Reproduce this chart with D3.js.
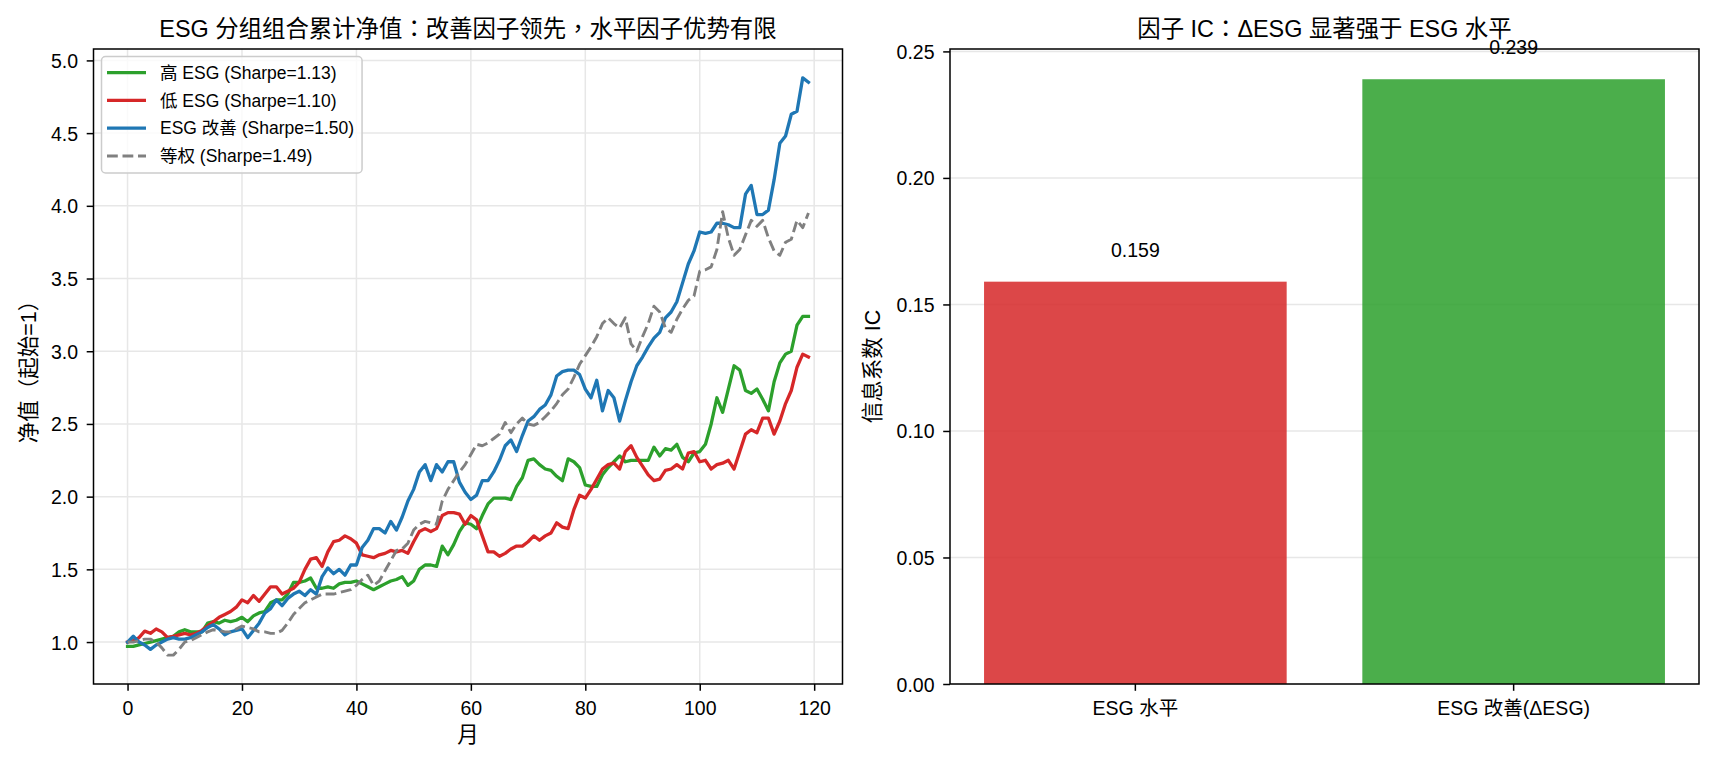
<!DOCTYPE html>
<html>
<head>
<meta charset="utf-8">
<script src="https://cdn.jsdelivr.net/npm/d3@7/dist/d3.min.js"></script>
<style>
  body { margin: 0; background: #fff; }
  svg text { font-family: "Liberation Sans", Arial, "Noto Sans CJK SC", sans-serif; fill: #000; }
  svg tspan.punct { font-family: "Noto Sans CJK TC", "Noto Sans CJK SC", sans-serif; }
</style>
</head>
<body>
<svg id="chart" width="1710" height="765"></svg>
<script>
// ---- data ----
var seriesNames = ["高 ESG (Sharpe=1.13)", "低 ESG (Sharpe=1.10)", "ESG 改善 (Sharpe=1.50)", "等权 (Sharpe=1.49)"];

var highEsg = [0.97,0.97,0.98,0.99,1.00,1.01,1.02,1.03,1.04,1.07,
  1.085,1.07,1.07,1.07,1.13,1.14,1.13,1.15,1.14,1.15,
  1.17,1.14,1.18,1.20,1.21,1.27,1.29,1.29,1.33,1.41,
  1.41,1.42,1.44,1.37,1.37,1.38,1.37,1.40,1.41,1.41,
  1.42,1.40,1.38,1.36,1.38,1.40,1.42,1.43,1.45,1.39,
  1.42,1.50,1.53,1.53,1.52,1.66,1.60,1.67,1.76,1.82,
  1.81,1.78,1.87,1.95,1.99,1.99,1.99,1.98,2.07,2.13,
  2.25,2.26,2.22,2.19,2.18,2.14,2.11,2.26,2.24,2.20,
  2.08,2.07,2.07,2.15,2.20,2.24,2.28,2.24,2.25,2.25,
  2.25,2.25,2.34,2.28,2.33,2.32,2.36,2.27,2.24,2.30,
  2.31,2.36,2.50,2.68,2.58,2.74,2.90,2.87,2.73,2.71,
  2.74,2.67,2.59,2.79,2.92,2.98,3.00,3.18,3.24,3.24];

var lowEsg = [1.00,1.01,1.03,1.075,1.06,1.09,1.07,1.03,1.04,1.05,
  1.06,1.05,1.06,1.08,1.11,1.14,1.17,1.19,1.21,1.24,
  1.29,1.27,1.32,1.28,1.33,1.38,1.38,1.33,1.35,1.37,
  1.41,1.50,1.57,1.58,1.52,1.62,1.69,1.70,1.73,1.71,
  1.68,1.60,1.59,1.58,1.60,1.61,1.63,1.62,1.63,1.61,
  1.69,1.76,1.78,1.76,1.78,1.87,1.89,1.89,1.88,1.81,
  1.87,1.84,1.73,1.62,1.62,1.59,1.61,1.64,1.66,1.66,
  1.69,1.73,1.70,1.73,1.75,1.82,1.79,1.78,1.91,2.01,
  1.99,2.05,2.12,2.19,2.22,2.23,2.19,2.31,2.35,2.27,
  2.21,2.15,2.11,2.12,2.18,2.19,2.22,2.19,2.30,2.31,
  2.24,2.25,2.19,2.22,2.23,2.25,2.19,2.31,2.43,2.46,
  2.44,2.54,2.54,2.43,2.52,2.64,2.73,2.89,2.98,2.96];

var esgImprove = [1.00,1.04,1.00,0.98,0.95,0.98,1.00,1.02,1.03,1.02,
  1.02,1.03,1.05,1.07,1.10,1.12,1.09,1.05,1.07,1.08,
  1.09,1.03,1.08,1.13,1.20,1.23,1.29,1.25,1.30,1.33,
  1.35,1.32,1.36,1.33,1.45,1.51,1.47,1.50,1.46,1.53,
  1.53,1.65,1.70,1.78,1.78,1.75,1.83,1.77,1.86,1.97,
  2.05,2.17,2.22,2.11,2.22,2.17,2.24,2.24,2.10,2.03,
  1.98,2.01,2.11,2.11,2.17,2.25,2.35,2.39,2.31,2.42,
  2.52,2.55,2.60,2.63,2.70,2.83,2.86,2.87,2.87,2.84,
  2.74,2.68,2.80,2.59,2.73,2.68,2.52,2.66,2.79,2.90,
  2.96,3.03,3.09,3.13,3.23,3.27,3.34,3.47,3.60,3.69,
  3.82,3.81,3.82,3.88,3.88,3.87,3.85,3.85,4.08,4.14,
  3.94,3.94,3.97,4.18,4.43,4.48,4.63,4.65,4.88,4.85];

var equalWeight = [1.00,1.00,1.01,1.02,1.02,1.00,0.96,0.91,0.91,0.95,
  1.00,1.01,1.03,1.05,1.07,1.085,1.08,1.07,1.07,1.09,
  1.11,1.10,1.09,1.07,1.07,1.06,1.06,1.08,1.13,1.19,
  1.23,1.27,1.29,1.31,1.33,1.33,1.33,1.34,1.35,1.36,
  1.39,1.43,1.46,1.39,1.42,1.49,1.56,1.63,1.64,1.68,
  1.77,1.81,1.83,1.82,1.81,1.97,2.05,2.11,2.17,2.22,
  2.29,2.36,2.35,2.37,2.40,2.43,2.51,2.44,2.50,2.54,
  2.50,2.49,2.51,2.55,2.59,2.64,2.70,2.74,2.82,2.91,
  2.97,3.03,3.10,3.19,3.23,3.19,3.16,3.23,3.05,3.00,
  3.10,3.19,3.31,3.27,3.16,3.13,3.22,3.29,3.35,3.38,
  3.55,3.56,3.58,3.70,3.96,3.78,3.66,3.70,3.80,3.90,
  3.86,3.90,3.78,3.69,3.66,3.75,3.77,3.90,3.85,3.95];

var icCategories = ["ESG 水平", "ESG 改善(ΔESG)"];
var icValues = [0.159, 0.239];

// ---- styles ----
var lineColors = ["#2ca02c", "#d62728", "#1f77b4", "#808080"],
    barColors = ["rgba(214,39,40,0.85)", "rgba(44,160,44,0.85)"],
    tickFont = 19.5, labelFont = 21.5, titleFont = 23.4, legendFont = 17.5,
    gridColor = "#e7e7e7";

var leftBox = {x0: 93.5, x1: 842.5, y0: 49, y1: 684},
    rightBox = {x0: 950, x1: 1699, y0: 49, y1: 684};

var svg = d3.select("#chart");
svg.append("rect").attr("width", 1710).attr("height", 765).attr("fill", "#fff");

function styleAxis(g){
    g.select("path.domain").remove();
    g.selectAll(".tick line").attr("stroke", "#000").attr("stroke-width", 1.5);
    g.selectAll(".tick text").style("font-size", tickFont + "px").attr("fill", "#000");
}

// full-width punctuation drawn centred (like the reference font)
function cjkText(sel, str){
    var parts = str.split(/([：，（）])/);
    parts.forEach(function(p){
        if(!p) return;
        var t = sel.append("tspan").text(p);
        if(/[：，（）]/.test(p)) t.attr("class", "punct");
    });
    return sel;
}

// ================= left: cumulative NAV =================
var allSeries = [highEsg, lowEsg, esgImprove, equalWeight];
var months = highEsg.map(function(d, i){ return i; });

var nMax = months.length - 1;
var xL = d3.scaleLinear()
    .domain([-0.05 * nMax, nMax * 1.05])
    .range([leftBox.x0, leftBox.x1]);

var vMin = d3.min(allSeries, function(s){ return d3.min(s); }),
    vMax = d3.max(allSeries, function(s){ return d3.max(s); }),
    vPad = (vMax - vMin) * 0.05;
var yL = d3.scaleLinear()
    .domain([vMin - vPad, vMax + vPad])
    .range([leftBox.y1, leftBox.y0]);

var leftG = svg.append("g");

// grid
leftG.append("g").selectAll("line.gx")
    .data(xL.ticks(7)).enter().append("line")
    .attr("x1", function(d){ return xL(d); }).attr("x2", function(d){ return xL(d); })
    .attr("y1", leftBox.y0).attr("y2", leftBox.y1)
    .attr("stroke", gridColor).attr("stroke-width", 1.5);
leftG.append("g").selectAll("line.gy")
    .data(yL.ticks(10)).enter().append("line")
    .attr("y1", function(d){ return yL(d); }).attr("y2", function(d){ return yL(d); })
    .attr("x1", leftBox.x0).attr("x2", leftBox.x1)
    .attr("stroke", gridColor).attr("stroke-width", 1.5);

var line = d3.line()
    .x(function(d, i){ return xL(i); })
    .y(function(d){ return yL(d); });

allSeries.forEach(function(s, k){
    var p = leftG.append("path")
        .attr("d", line(s))
        .attr("fill", "none")
        .attr("stroke", lineColors[k])
        .attr("stroke-linejoin", "round");
    if(k == 3){
        p.attr("stroke-width", 2.9).attr("stroke-dasharray", "10.8,4.7");
    } else {
        p.attr("stroke-width", 3.3).attr("stroke-linecap", "square");
    }
});

leftG.append("g")
    .attr("transform", "translate(0," + leftBox.y1 + ")")
    .call(d3.axisBottom(xL).ticks(7).tickSize(6.8).tickPadding(10.4).tickFormat(d3.format("d")))
    .call(styleAxis);

leftG.append("g")
    .attr("transform", "translate(" + leftBox.x0 + ",0)")
    .call(d3.axisLeft(yL).ticks(10).tickSize(6.8).tickPadding(8.7).tickFormat(d3.format(".1f")))
    .call(styleAxis)
    .selectAll(".tick text").attr("dy", "0.36em");

leftG.append("rect")
    .attr("x", leftBox.x0).attr("y", leftBox.y0)
    .attr("width", leftBox.x1 - leftBox.x0).attr("height", leftBox.y1 - leftBox.y0)
    .attr("fill", "none").attr("stroke", "#000").attr("stroke-width", 1.5);

leftG.append("text")
    .attr("x", (leftBox.x0 + leftBox.x1) / 2).attr("y", 37.3)
    .attr("text-anchor", "middle").style("font-size", titleFont + "px")
    .call(cjkText, "ESG 分组组合累计净值：改善因子领先，水平因子优势有限");

leftG.append("text")
    .text("月")
    .attr("x", (leftBox.x0 + leftBox.x1) / 2).attr("y", 742)
    .attr("text-anchor", "middle").style("font-size", labelFont + "px");

leftG.append("text")
    .attr("transform", "translate(28," + (leftBox.y0 + leftBox.y1) / 2 + ") rotate(-90)")
    .attr("text-anchor", "middle").attr("dy", "0.36em")
    .style("font-size", labelFont + "px")
    .call(cjkText, "净值（起始=1）");

// legend
var legend = leftG.append("g");
var legendBox = legend.append("rect")
    .attr("x", 101.5).attr("y", 56.5).attr("height", 116.5)
    .attr("rx", 4).attr("fill", "#fff").attr("fill-opacity", 0.8)
    .attr("stroke", "#cccccc").attr("stroke-width", 1.5);
var rowY = [72.7, 100.4, 128.2, 156];
var maxEnd = 0;
seriesNames.forEach(function(name, k){
    var l = legend.append("line")
        .attr("x1", 107).attr("x2", 146)
        .attr("y1", rowY[k]).attr("y2", rowY[k])
        .attr("stroke", lineColors[k]);
    if(k == 3){
        l.attr("stroke-width", 2.9).attr("stroke-dasharray", "10.8,4.7");
    } else {
        l.attr("stroke-width", 3.3);
    }
    var t = legend.append("text")
        .text(name)
        .attr("x", 160).attr("y", rowY[k]).attr("dy", "0.35em")
        .style("font-size", legendFont + "px");
    maxEnd = Math.max(maxEnd, 160 + t.node().getComputedTextLength());
});
legendBox.attr("width", maxEnd + 8 - 101.5);

// ================= right: factor IC bars =================
var xR = d3.scaleBand()
    .domain(icCategories)
    .range([rightBox.x0, rightBox.x1])
    .paddingInner(0.2).paddingOuter(0.09);

var yR = d3.scaleLinear()
    .domain([0, d3.max(icValues) * 1.05])
    .range([rightBox.y1, rightBox.y0]);

var rightG = svg.append("g");

rightG.append("g").selectAll("line")
    .data(yR.ticks(6)).enter().append("line")
    .attr("y1", function(d){ return yR(d); }).attr("y2", function(d){ return yR(d); })
    .attr("x1", rightBox.x0).attr("x2", rightBox.x1)
    .attr("stroke", gridColor).attr("stroke-width", 1.5);

rightG.append("g").selectAll("rect")
    .data(icValues).enter().append("rect")
    .attr("x", function(d, i){ return xR(icCategories[i]); })
    .attr("width", xR.bandwidth())
    .attr("y", function(d){ return yR(d); })
    .attr("height", function(d){ return yR(0) - yR(d); })
    .attr("fill", function(d, i){ return barColors[i]; });

rightG.append("g").selectAll("text")
    .data(icValues).enter().append("text")
    .text(function(d){ return d3.format(".3f")(d); })
    .attr("x", function(d, i){ return xR(icCategories[i]) + xR.bandwidth() / 2; })
    .attr("y", function(d){ return yR(d + 0.01) + 0.5; })
    .attr("text-anchor", "middle")
    .style("font-size", tickFont + "px");

rightG.append("g")
    .attr("transform", "translate(0," + rightBox.y1 + ")")
    .call(d3.axisBottom(xR).tickSize(6.8).tickPadding(10.4))
    .call(styleAxis);

rightG.append("g")
    .attr("transform", "translate(" + rightBox.x0 + ",0)")
    .call(d3.axisLeft(yR).ticks(6).tickSize(6.8).tickPadding(8.7).tickFormat(d3.format(".2f")))
    .call(styleAxis)
    .selectAll(".tick text").attr("dy", "0.36em");

rightG.append("rect")
    .attr("x", rightBox.x0).attr("y", rightBox.y0)
    .attr("width", rightBox.x1 - rightBox.x0).attr("height", rightBox.y1 - rightBox.y0)
    .attr("fill", "none").attr("stroke", "#000").attr("stroke-width", 1.5);

rightG.append("text")
    .attr("x", (rightBox.x0 + rightBox.x1) / 2).attr("y", 37.3)
    .attr("text-anchor", "middle").style("font-size", titleFont + "px")
    .call(cjkText, "因子 IC：ΔESG 显著强于 ESG 水平");

rightG.append("text")
    .text("信息系数 IC")
    .attr("transform", "translate(872," + (rightBox.y0 + rightBox.y1) / 2 + ") rotate(-90)")
    .attr("text-anchor", "middle").attr("dy", "0.36em")
    .style("font-size", labelFont + "px");
</script>
</body>
</html>
